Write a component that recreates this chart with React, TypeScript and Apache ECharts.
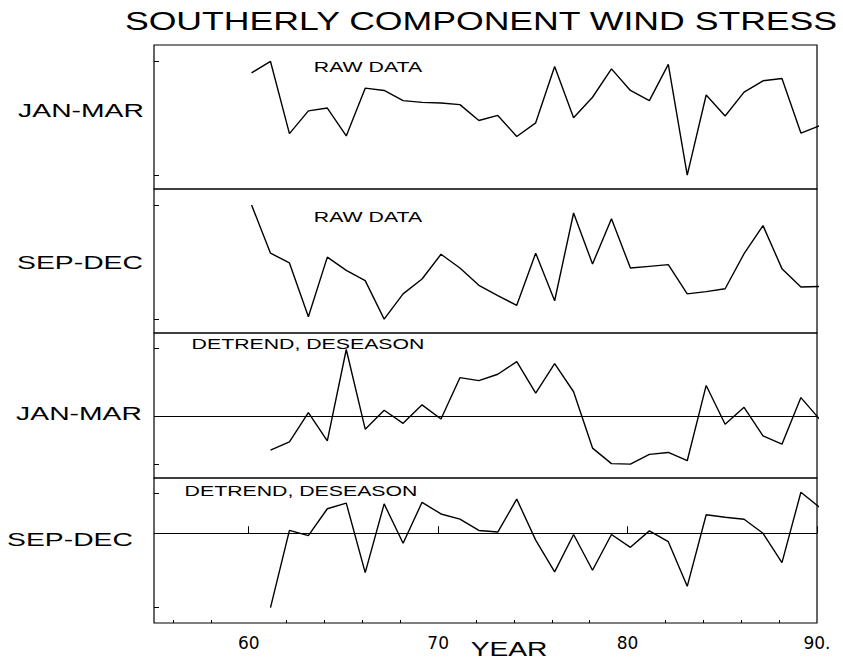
import React, { useEffect, useRef } from "react";
import * as echarts from "echarts";

// Years of the raw seasonal series (1960-1990) and of the detrended ones (1961-1990)
const RAW_YEARS = [60, 61, 62, 63, 64, 65, 66, 67, 68, 69, 70, 71, 72, 73, 74, 75, 76, 77, 78, 79, 80, 81, 82, 83, 84, 85, 86, 87, 88, 89, 90];
const DETREND_YEARS = [61, 62, 63, 64, 65, 66, 67, 68, 69, 70, 71, 72, 73, 74, 75, 76, 77, 78, 79, 80, 81, 82, 83, 84, 85, 86, 87, 88, 89, 90];

// Southerly wind stress, arbitrary units per panel
const JAN_MAR_RAW = [0.8, 1.0, -0.27, 0.13, 0.18, -0.31, 0.53, 0.49, 0.31, 0.28, 0.27, 0.24, -0.04, 0.05, -0.32, -0.08, 0.91, 0.01, 0.37, 0.87, 0.49, 0.31, 0.95, -1.0, 0.41, 0.04, 0.46, 0.66, 0.7, -0.26, -0.13];
const SEP_DEC_RAW = [1.0, 0.16, -0.01, -0.95, 0.09, -0.14, -0.32, -0.99, -0.55, -0.29, 0.14, -0.1, -0.4, -0.58, -0.75, 0.16, -0.67, 0.86, -0.03, 0.76, -0.1, -0.07, -0.04, -0.55, -0.51, -0.46, 0.15, 0.64, -0.11, -0.43, -0.42];
const JAN_MAR_DETREND = [-0.7, -0.53, 0.07, -0.51, 1.37, -0.27, 0.12, -0.15, 0.23, -0.06, 0.79, 0.73, 0.86, 1.12, 0.47, 1.08, 0.5, -0.66, -0.98, -0.99, -0.79, -0.75, -0.92, 0.63, -0.17, 0.18, -0.41, -0.58, 0.38, -0.07];
const SEP_DEC_DETREND = [-1.85, 0.07, -0.06, 0.61, 0.75, -0.98, 0.73, -0.25, 0.77, 0.48, 0.35, 0.07, 0.03, 0.85, -0.17, -0.96, -0.03, -0.92, -0.03, -0.35, 0.06, -0.21, -1.32, 0.46, 0.4, 0.35, 0.0, -0.73, 1.02, 0.64];

// Axis ticks
const YEAR_LABELS = [60, 70, 80, 90];
const YEAR_MAJOR_TICKS = [60, 70, 80, 90];
const YEAR_MINOR_TICKS = [56, 58, 62, 64, 66, 68, 72, 74, 76, 78, 82, 84, 86, 88];

const SEASON_LABELS = ["JAN-MAR", "SEP-DEC", "JAN-MAR", "SEP-DEC"];
const PANEL_NOTES = ["RAW DATA", "RAW DATA", "DETREND, DESEASON", "DETREND, DESEASON"];

// Each seasonal value sits a little past the start of its year
const SEASON_SHIFT = 0.15;

const FONT = "'Liberation Sans', Arial, Helvetica, sans-serif";

const panels = [
  { years: RAW_YEARS, values: JAN_MAR_RAW, top: 45, height: 144, min: -1.245, max: 1.29, ticks: [-1, 1], zero: false },
  { years: RAW_YEARS, values: SEP_DEC_RAW, top: 189, height: 144, min: -1.232, max: 1.278, ticks: [-1, 1], zero: false },
  { years: DETREND_YEARS, values: JAN_MAR_DETREND, top: 333, height: 145, min: -1.276, max: 1.71, ticks: [-1, 1.4], zero: true },
  { years: DETREND_YEARS, values: SEP_DEC_DETREND, top: 478, height: 145, min: -2.233, max: 1.375, ticks: [-1.85, 1], zero: true },
];

// Wide, thin-stroked lettering: horizontally stretched text whose glyphs are
// slimmed by a white outline painted over the fill.
function wideText(text: string, x: number, y: number, size: number, scaleX: number, slim: number) {
  return {
    type: "text",
    x,
    y,
    scaleX,
    style: {
      text,
      font: `${size}px ${FONT}`,
      fill: "#000",
      stroke: "#fff",
      lineWidth: slim,
      textAlign: "center",
      textVerticalAlign: "middle",
    },
  };
}

export default function App() {
  const ref = useRef<HTMLDivElement>(null);

  useEffect(() => {
    if (!ref.current) return;
    const chart = echarts.init(ref.current, null, { renderer: "svg" });

    const grids = panels.map((p) => ({
      left: 154,
      right: 26,
      top: p.top,
      height: p.height,
      show: true,
      borderColor: "#000",
      borderWidth: 1.2,
      backgroundColor: "transparent",
    }));

    const xAxes: any[] = panels.map((_, i) => {
      if (i < panels.length - 1) {
        return { type: "value", gridIndex: i, min: 55, max: 90, show: false };
      }
      return {
        type: "value",
        gridIndex: i,
        min: 55,
        max: 90,
        position: "bottom",
        axisLine: { show: false },
        splitLine: { show: false },
        axisTick: {
          show: true,
          inside: true,
          length: 7,
          customValues: YEAR_MAJOR_TICKS,
          lineStyle: { color: "#000", width: 1 },
        },
        axisLabel: {
          show: true,
          customValues: YEAR_LABELS,
          formatter: (v: number) => (v === 90 ? "90." : String(v)),
          color: "#000",
          fontFamily: "'DejaVu Sans', sans-serif",
          fontSize: 17,
          margin: 11,
        },
      };
    });
    // minor year ticks along the bottom frame
    xAxes.push({
      type: "value",
      gridIndex: panels.length - 1,
      min: 55,
      max: 90,
      position: "bottom",
      axisLine: { show: false },
      splitLine: { show: false },
      axisLabel: { show: false },
      axisTick: {
        show: true,
        inside: true,
        length: 3,
        customValues: YEAR_MINOR_TICKS,
        lineStyle: { color: "#000", width: 1 },
      },
    });

    const yAxes = panels.map((p, i) => ({
      type: "value",
      gridIndex: i,
      min: p.min,
      max: p.max,
      axisLine: { show: false },
      splitLine: { show: false },
      axisLabel: { show: false },
      axisTick: {
        show: true,
        inside: true,
        length: 5,
        customValues: p.ticks,
        lineStyle: { color: "#000", width: 1 },
      },
    }));

    const series = panels.map((p, i) => ({
      type: "line",
      xAxisIndex: i,
      yAxisIndex: i,
      data: p.years.map((yr, k) => [yr + SEASON_SHIFT, p.values[k]]),
      symbol: "none",
      clip: true,
      lineStyle: { color: "#000", width: 1.4 },
      markLine: p.zero
        ? {
            silent: true,
            symbol: ["none", "none"],
            label: { show: false },
            lineStyle: { color: "#000", width: 1, type: "solid" },
            data: [{ yAxis: 0 }],
          }
        : undefined,
    }));

    const seasonPos = [
      [81, 110],
      [80, 262],
      [79, 413],
      [70, 539],
    ];
    const notePos = [
      [368, 67],
      [368, 217],
      [308, 344],
      [301, 491],
    ];

    const graphic: any[] = [
      wideText("SOUTHERLY COMPONENT WIND STRESS", 481, 21, 26, 1.37, 0.9),
      wideText("YEAR", 509, 649, 20, 1.41, 0.7),
      ...SEASON_LABELS.map((t, i) => wideText(t, seasonPos[i][0], seasonPos[i][1], 19, 1.49, 0.7)),
      ...PANEL_NOTES.map((t, i) => wideText(t, notePos[i][0], notePos[i][1], 14, 1.52, 0.4)),
    ];

    chart.setOption({
      animation: false,
      backgroundColor: "#fff",
      grid: grids,
      xAxis: xAxes,
      yAxis: yAxes,
      series,
      graphic,
    });

    return () => chart.dispose();
  }, []);

  return (
    <div
      ref={ref}
      style={{ position: "absolute", left: 0, top: 0, width: 843, height: 660 }}
    />
  );
}
